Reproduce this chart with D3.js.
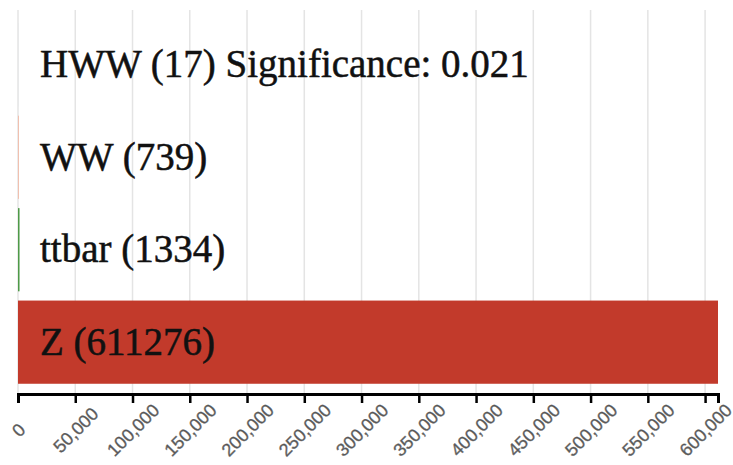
<!DOCTYPE html>
<html>
<head>
<meta charset="utf-8">
<script src="https://d3js.org/d3.v7.min.js"></script>
<style>
  html, body { margin: 0; padding: 0; background: #fff; }
  svg { display: block; }
</style>
</head>
<body>
<svg id="chart" width="733" height="465"></svg>
<script>
// Event counts per process
const processes = ["HWW", "WW", "ttbar", "Z"];
const counts = [17, 739, 1334, 611276];
const barColors = ["#3b73b9", "#f2b9a4", "#4f9a48", "#c23a2b"];
const significance = "0.021";
const tickValues = [0, 50000, 100000, 150000, 200000, 250000, 300000,
                    350000, 400000, 450000, 500000, 550000, 600000];

const rows = processes.map((p, i) => ({ name: p, count: counts[i], color: barColors[i] }));

const svg = d3.select("#chart");
const axisY = 394;

const x = d3.scaleLinear()
  .domain([0, d3.max(counts)])
  .range([18, 718]);

const y = d3.scaleBand()
  .domain(processes)
  .range([14, 393])
  .paddingInner(0.1)
  .paddingOuter(0.1);

// vertical grid lines
svg.append("g")
  .selectAll("line")
  .data(tickValues)
  .join("line")
  .attr("x1", d => x(d)).attr("x2", d => x(d))
  .attr("y1", 10).attr("y2", axisY)
  .attr("stroke", "#e4e4e4")
  .attr("stroke-width", 1.5);

// bars
svg.append("g")
  .selectAll("rect")
  .data(rows)
  .join("rect")
  .attr("x", x(0))
  .attr("y", d => y(d.name))
  .attr("width", d => x(d.count) - x(0))
  .attr("height", y.bandwidth())
  .attr("fill", d => d.color);

// labels
svg.append("g")
  .selectAll("text")
  .data(rows)
  .join("text")
  .attr("x", x(0) + 22)
  .attr("y", d => y(d.name) + y.bandwidth() / 2)
  .attr("dy", "0.32em")
  .attr("font-family", "'Liberation Serif', 'Times New Roman', serif")
  .attr("font-size", 39)
  .attr("fill", "#111")
  .attr("stroke", "#111")
  .attr("stroke-width", 0.5)
  .text((d, i) => i === 0
    ? `${d.name} (${d.count}) Significance: ${significance}`
    : `${d.name} (${d.count})`);

// x axis
const axis = d3.axisBottom(x)
  .tickValues(tickValues)
  .tickFormat(d3.format(","))
  .tickSize(9)
  .tickSizeOuter(9);

const gx = svg.append("g")
  .attr("transform", `translate(0,${axisY})`)
  .call(axis);

gx.select(".domain").attr("stroke", "#000").attr("stroke-width", 3);
gx.selectAll(".tick line").attr("stroke", "#000").attr("stroke-width", 2.5);
gx.selectAll(".tick text")
  .attr("y", 0)
  .attr("dy", "0.35em")
  .attr("transform", "translate(0,36) rotate(-45)")
  .style("text-anchor", "middle")
  .style("font-family", "'Liberation Sans', Arial, sans-serif")
  .style("font-size", "18px")
  .attr("fill", "#555")
  .attr("stroke", "#777")
  .attr("stroke-width", 0.4);
</script>
</body>
</html>
